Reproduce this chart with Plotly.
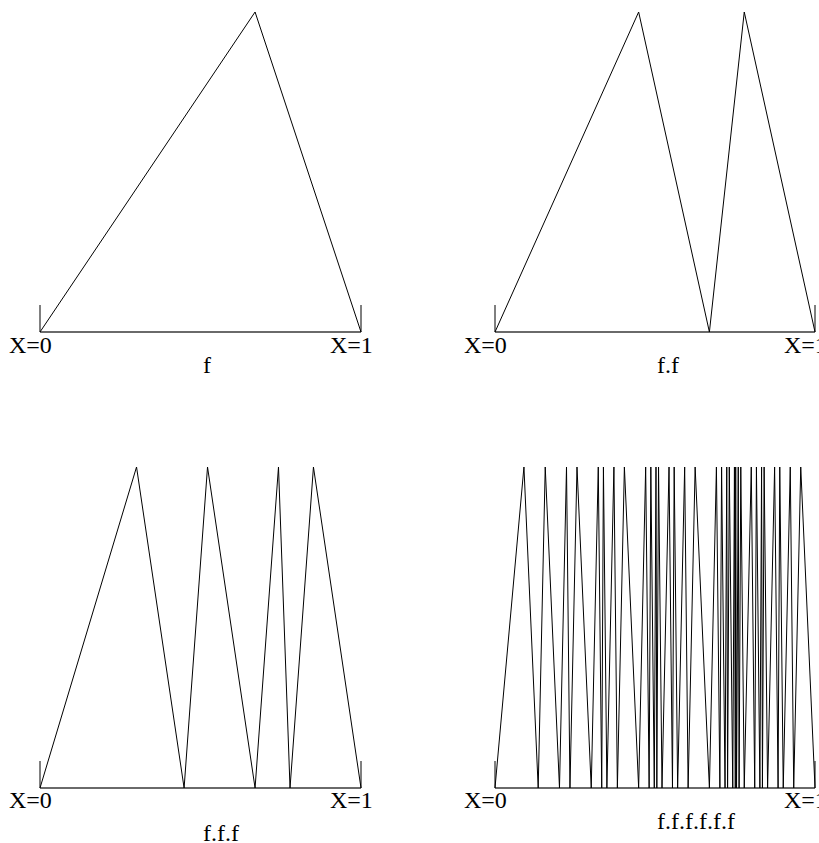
import numpy as np
import plotly.graph_objects as go

# Skewed tent map f on [0, 1]: rises from (0,0) to (peak, 1), falls back to (1, 0)
peak_x = 0.67
f_x = [0.0, peak_x, 1.0]
f_y = [0.0, 1.0, 0.0]

# How many times f is applied in each panel, and the caption under it
iterations = [1, 2, 3, 6]
captions = ["f", "f.f", "f.f.f", "f.f.f.f.f.f"]
end_labels = ["X=0", "X=1"]

W, H = 819, 843
# pixel boxes: (x of X=0, x of X=1, y of value 1, y of value 0)
panels = [
    (40, 361, 12, 332),
    (495, 815, 12, 332),
    (40, 361, 467, 788),
    (495, 815, 467, 788),
]
caption_shift = [-33, -33, -45, -33]
endlabel_shift = [-13, -13, -12, -12]


def compose(fx, fy, gx, gy):
    """Vertices of the piecewise-linear function f(g(x))."""
    xs = []
    for i in range(len(gx) - 1):
        x0, x1, y0, y1 = gx[i], gx[i + 1], gy[i], gy[i + 1]
        xs.append(x0)
        cuts = []
        for b in fx[1:-1]:
            if (y0 - b) * (y1 - b) < 0:
                t = (b - y0) / (y1 - y0)
                cuts.append(x0 + t * (x1 - x0))
        xs.extend(sorted(cuts))
    xs.append(gx[-1])
    xs = np.array(xs)
    ys = np.interp(np.interp(xs, gx, gy), fx, fy)
    return xs, ys


def iterate(n):
    gx, gy = np.array(f_x), np.array(f_y)
    for _ in range(n - 1):
        gx, gy = compose(f_x, f_y, gx, gy)
    return gx, gy


fig = go.Figure()
layout = dict(
    width=W, height=H,
    margin=dict(l=0, r=0, t=0, b=0),
    paper_bgcolor="white", plot_bgcolor="white",
    showlegend=False,
)
annotations = []
tick_h = 27.0

for k, (px0, px1, py1, py0) in enumerate(panels):
    ax = "" if k == 0 else str(k + 1)
    w = px1 - px0
    h = py0 - py1
    pad = 0.1
    # x domain / range so that data 0 and 1 land on px0 and px1
    d0 = max(0.0, px0 - pad * w)
    d1 = min(W, px1 + pad * w)
    xr = [(d0 - px0) / w, (d1 - px0) / w]
    # y domain / range so that data 0 and 1 land on py0 and py1
    t0 = max(0.0, py1 - pad * h)
    b0 = min(H, py0 + pad * h)
    yr = [(py0 - b0) / h, (py0 - t0) / h]
    layout["xaxis" + ax] = dict(domain=[d0 / W, d1 / W], range=xr, visible=False,
                                anchor="y" + ax, fixedrange=True)
    layout["yaxis" + ax] = dict(domain=[1 - b0 / H, 1 - t0 / H], range=yr, visible=False,
                                anchor="x" + ax, fixedrange=True)
    xa, ya = "x" + ax, "y" + ax

    # base line
    fig.add_trace(go.Scatter(x=[0, 1], y=[0, 0], mode="lines",
                             line=dict(color="#6a6a6a", width=1.8),
                             xaxis=xa, yaxis=ya, hoverinfo="skip"))
    # end ticks
    th = tick_h / h
    for xe in (0, 1):
        fig.add_trace(go.Scatter(x=[xe, xe], y=[0, th], mode="lines",
                                 line=dict(color="black", width=1),
                                 xaxis=xa, yaxis=ya, hoverinfo="skip"))
    # the iterated map
    gx, gy = iterate(iterations[k])
    fig.add_trace(go.Scatter(x=gx, y=gy, mode="lines",
                             line=dict(color="black", width=1),
                             xaxis=xa, yaxis=ya, hoverinfo="skip"))

    for xe, lab in zip((0, 1), end_labels):
        annotations.append(dict(x=xe, y=0, xref=xa, yref=ya, text=lab,
                                showarrow=False, xanchor="left", yanchor="middle",
                                xshift=-33, yshift=endlabel_shift[k],
                                font=dict(family="Liberation Serif", size=24, color="black")))
    annotations.append(dict(x=0.5, y=0, xref=xa, yref=ya, text=captions[k],
                            showarrow=False, xanchor="left", yanchor="middle",
                            xshift=0, yshift=caption_shift[k],
                            font=dict(family="Liberation Serif", size=24, color="black")))

layout["annotations"] = annotations
fig.update_layout(**layout)
fig.write_html("out.html", config={"displayModeBar": False})
